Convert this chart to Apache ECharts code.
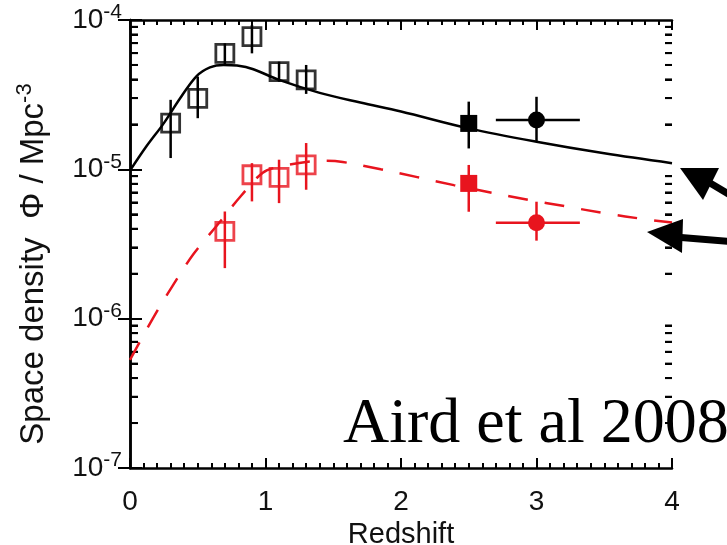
<!DOCTYPE html>
<html>
<head>
<meta charset="utf-8">
<script src="https://cdn.jsdelivr.net/npm/echarts@6/dist/echarts.min.js"></script>
<style>
html, body { margin: 0; padding: 0; background: #fff; }
#chart { width: 727px; height: 545px; }
</style>
</head>
<body>
<div id="chart"></div>
<script>
// model curves
const blackModelZ = [0, 0.12, 0.25, 0.37, 0.49, 0.59, 0.69, 0.79, 0.91, 1.1, 1.4, 1.7, 2.0, 2.5, 3.0, 3.5, 4.0];
const blackModelPhi = [9.8e-6, 1.42e-5, 2.04e-5, 2.99e-5, 4.2e-5, 4.82e-5, 5.0e-5, 4.95e-5, 4.68e-5, 3.97e-5, 3.25e-5, 2.8e-5, 2.44e-5, 1.88e-5, 1.53e-5, 1.28e-5, 1.1e-5];
const redModelZ = [0, 0.17, 0.32, 0.47, 0.64, 0.82, 0.98, 1.1, 1.3, 1.45, 1.57, 1.85, 2.12, 2.39, 2.66, 2.94, 3.22, 3.5, 3.81, 4.0];
const redModelPhi = [5.3e-7, 1.01e-6, 1.69e-6, 2.72e-6, 4.19e-6, 6.65e-6, 9.5e-6, 1.04e-5, 1.12e-5, 1.14e-5, 1.12e-5, 1.0e-5, 8.87e-6, 7.84e-6, 7.0e-6, 6.25e-6, 5.64e-6, 5.09e-6, 4.62e-6, 4.4e-6];

// open squares
const blackOpenZ = [0.3, 0.5, 0.7, 0.9, 1.1, 1.3];
const blackOpenPhi = [2.04e-5, 2.99e-5, 5.98e-5, 7.74e-5, 4.51e-5, 3.97e-5];
const blackOpenLo = [1.19e-5, 2.2e-5, 5.0e-5, 5.98e-5, 3.86e-5, 3.2e-5];
const blackOpenHi = [2.92e-5, 4.18e-5, 6.98e-5, 9.26e-5, 5.26e-5, 5.0e-5];
const redOpenZ = [0.7, 0.9, 1.1, 1.3];
const redOpenPhi = [3.84e-6, 9.2e-6, 8.83e-6, 1.07e-5];
const redOpenLo = [2.18e-6, 6.1e-6, 5.94e-6, 7.3e-6];
const redOpenHi = [5.22e-6, 1.1e-5, 1.16e-5, 1.5e-5];

// filled square (z = 2.5): z, phi, phiLo, phiHi
const blackSquare = [2.5, 2.03e-5, 1.38e-5, 2.84e-5];
const redSquare = [2.5, 8.05e-6, 5.2e-6, 1.07e-5];

// filled circle: z, phi, phiLo, phiHi, zLo, zHi
const blackCircle = [3.0, 2.14e-5, 1.53e-5, 3.06e-5, 2.7, 3.32];
const redCircle = [3.0, 4.39e-6, 3.33e-6, 6.07e-6, 2.7, 3.32];

const RED = '#e8141e';
const FONT = '"Liberation Sans", Arial, sans-serif';

let yMinor = [];
for (let d = -7; d < -4; d++) {
    for (let m = 2; m < 10; m++) yMinor.push(m * Math.pow(10, d));
}

function vErr(color) {
    return function (params, api) {
        const a = api.coord([api.value(0), api.value(1)]);
        const b = api.coord([api.value(0), api.value(2)]);
        return {
            type: 'line',
            shape: { x1: a[0], y1: a[1], x2: b[0], y2: b[1] },
            style: { stroke: color, lineWidth: 2.5 }
        };
    };
}
function hErr(color) {
    return function (params, api) {
        const a = api.coord([api.value(0), api.value(2)]);
        const b = api.coord([api.value(1), api.value(2)]);
        return {
            type: 'line',
            shape: { x1: a[0], y1: a[1], x2: b[0], y2: b[1] },
            style: { stroke: color, lineWidth: 2.5 }
        };
    };
}

const zip = (xs, ys) => xs.map((x, i) => [x, ys[i]]);
const errData = (xs, lo, hi) => xs.map((x, i) => [x, lo[i], hi[i]]);

function supStyle(base, sup) {
    return {
        fontSize: base,
        fontFamily: FONT,
        color: '#111',
        lineHeight: base + 8,
        rich: { s: { fontSize: sup, fontFamily: FONT, color: '#111', verticalAlign: 'top', lineHeight: base + 8 } }
    };
}

const xBase = {
    type: 'value', min: 0, max: 4, interval: 1,
    axisLine: { lineStyle: { color: '#000', width: 2.5 } },
    axisTick: { inside: true, length: 10, lineStyle: { color: '#000', width: 2 } },
    minorTick: { show: true, splitNumber: 10, length: 5, lineStyle: { color: '#000', width: 2 } },
    splitLine: { show: false }
};
const yBase = {
    type: 'log', logBase: 10, min: 1e-7, max: 1e-4,
    axisLine: { lineStyle: { color: '#000', width: 2.5 } },
    axisTick: { inside: true, length: 12, lineStyle: { color: '#000', width: 2 } },
    splitLine: { show: false }
};
// extra log axes that only carry the minor ticks (2..9 of each decade)
const yMinorAxis = (pos, len) => ({
    type: 'log', logBase: 10, min: 1e-7, max: 1e-4, position: pos, offset: 0,
    axisLine: { show: false },
    axisLabel: { show: false },
    axisTick: { show: true, inside: true, length: len, customValues: yMinor, lineStyle: { color: '#000', width: 2 } },
    splitLine: { show: false }
});

const chart = echarts.init(document.getElementById('chart'));
chart.setOption({
    backgroundColor: '#fff',
    animation: false,
    grid: { left: 130, right: 55, top: 20, bottom: 77, containLabel: false, outerBoundsMode: 'none' },
    xAxis: [
        Object.assign({}, xBase, {
            position: 'bottom',
            name: 'Redshift', nameLocation: 'middle', nameGap: 50,
            nameTextStyle: { fontSize: 29, fontFamily: FONT, color: '#111' },
            axisLabel: { margin: 20, fontSize: 28, fontFamily: FONT, color: '#111' }
        }),
        Object.assign({}, xBase, { position: 'top', axisLabel: { show: false } })
    ],
    yAxis: [
        Object.assign({}, yBase, {
            position: 'left',
            axisLabel: Object.assign({ margin: 8, formatter: v => '10{s|' + Math.round(Math.log10(v)) + '}' }, supStyle(28, 21))
        }),
        Object.assign({}, yBase, { position: 'right', axisLabel: { show: false } }),
        yMinorAxis('left', 8),
        yMinorAxis('right', 7)
    ],
    series: [
        {
            type: 'line', data: zip(blackModelZ, blackModelPhi), smooth: 0.35, showSymbol: false,
            lineStyle: { color: '#000', width: 2.5 }
        },
        {
            type: 'line', data: zip(redModelZ, redModelPhi), smooth: 0.35, showSymbol: false,
            lineStyle: { color: RED, width: 2.5, type: [20, 17] }
        },
        { type: 'custom', renderItem: vErr('#000'), encode: { x: 0, y: [1, 2] }, data: errData(blackOpenZ, blackOpenLo, blackOpenHi) },
        { type: 'custom', renderItem: vErr(RED), encode: { x: 0, y: [1, 2] }, data: errData(redOpenZ, redOpenLo, redOpenHi) },
        { type: 'custom', renderItem: vErr('#000'), encode: { x: 0, y: [1, 2] }, data: [[blackSquare[0], blackSquare[2], blackSquare[3]], [blackCircle[0], blackCircle[2], blackCircle[3]]] },
        { type: 'custom', renderItem: vErr(RED), encode: { x: 0, y: [1, 2] }, data: [[redSquare[0], redSquare[2], redSquare[3]], [redCircle[0], redCircle[2], redCircle[3]]] },
        { type: 'custom', renderItem: hErr('#000'), encode: { x: [0, 1], y: 2 }, data: [[blackCircle[4], blackCircle[5], blackCircle[1]]] },
        { type: 'custom', renderItem: hErr(RED), encode: { x: [0, 1], y: 2 }, data: [[redCircle[4], redCircle[5], redCircle[1]]] },
        {
            type: 'scatter', symbol: 'rect', symbolSize: 18, data: zip(blackOpenZ, blackOpenPhi),
            itemStyle: { color: 'rgba(0,0,0,0)', borderColor: '#000', borderWidth: 2.8 }
        },
        {
            type: 'scatter', symbol: 'rect', symbolSize: 18, data: zip(redOpenZ, redOpenPhi),
            itemStyle: { color: 'rgba(0,0,0,0)', borderColor: RED, borderWidth: 2.8 }
        },
        { type: 'scatter', symbol: 'rect', symbolSize: 17, data: [[blackSquare[0], blackSquare[1]]], itemStyle: { color: '#000', opacity: 1 } },
        { type: 'scatter', symbol: 'rect', symbolSize: 17, data: [[redSquare[0], redSquare[1]]], itemStyle: { color: RED, opacity: 1 } },
        { type: 'scatter', symbol: 'circle', symbolSize: 17, data: [[blackCircle[0], blackCircle[1]]], itemStyle: { color: '#000', opacity: 1 } },
        { type: 'scatter', symbol: 'circle', symbolSize: 17, data: [[redCircle[0], redCircle[1]]], itemStyle: { color: RED, opacity: 1 } }
    ]
});

// the same minor ticks again as plain shapes, placed with the axis scale
const x0 = chart.convertToPixel({ xAxisIndex: 0 }, 0);
const x4 = chart.convertToPixel({ xAxisIndex: 0 }, 4);
const tickMarks = [];
yMinor.forEach(v => {
    const y = chart.convertToPixel({ yAxisIndex: 0 }, v);
    tickMarks.push({ type: 'rect', shape: { x: x0, y: y - 1, width: 8, height: 2 }, style: { fill: '#000' } });
    tickMarks.push({ type: 'rect', shape: { x: x4 - 7, y: y - 1, width: 7, height: 2 }, style: { fill: '#000' } });
});

chart.setOption({
    graphic: [
        { type: 'group', id: 'minorTicks', z: 100, children: tickMarks },
        {
            type: 'text', id: 'yTitle', x: 34, y: 264, rotation: Math.PI / 2, z: 100,
            style: Object.assign({ text: 'Space density  Φ / Mpc{s|-3}', align: 'center', verticalAlign: 'middle', fill: '#111' }, supStyle(33, 22))
        },
        {
            type: 'text', id: 'note', left: 343, top: 393, z: 100,
            style: { text: 'Aird et al 2008', font: '64px "Liberation Serif", "Times New Roman", serif', fill: '#000' }
        },
        { type: 'polygon', id: 'head1', z: 100, shape: { points: [[680, 168], [719, 168], [703, 200]] }, style: { fill: '#000' } },
        { type: 'line', id: 'shaft1', z: 100, shape: { x1: 705, y1: 180, x2: 735, y2: 198 }, style: { stroke: '#000', lineWidth: 7 } },
        { type: 'polygon', id: 'head2', z: 100, shape: { points: [[647, 232], [683, 219], [682, 253]] }, style: { fill: '#000' } },
        { type: 'line', id: 'shaft2', z: 100, shape: { x1: 675, y1: 237, x2: 735, y2: 242 }, style: { stroke: '#000', lineWidth: 7 } }
    ]
});
</script>
</body>
</html>
